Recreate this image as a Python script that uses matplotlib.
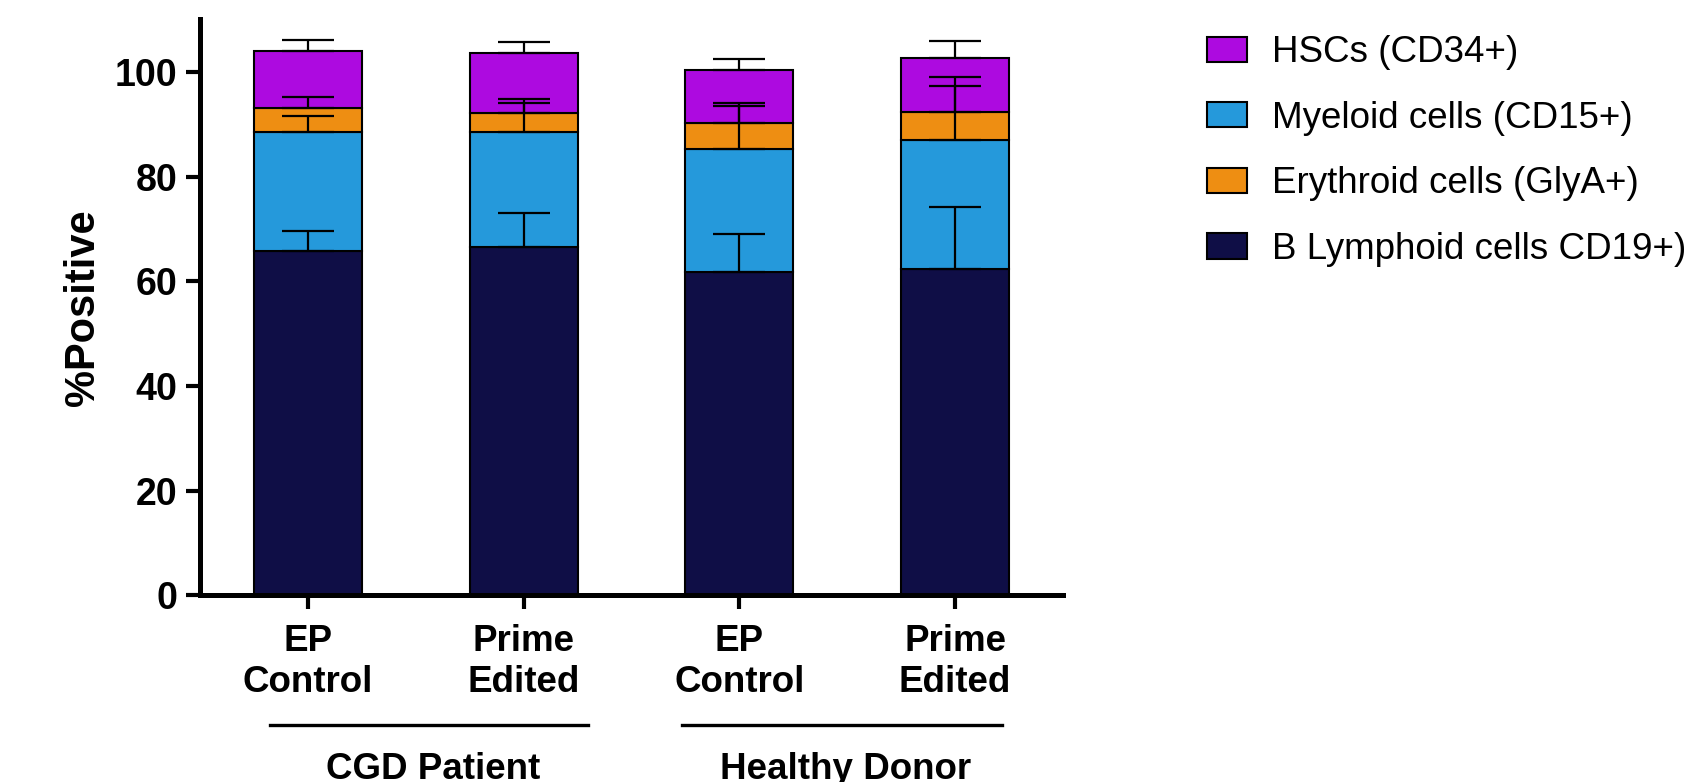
import numpy as np
import matplotlib.pyplot as plt
from matplotlib.patches import Patch

plt.rcParams["font.family"] = ["Liberation Sans", "DejaVu Sans"]

# x categories and the donor groups they belong to
conditions = ["EP\nControl", "Prime\nEdited", "EP\nControl", "Prime\nEdited"]
groups = ["CGD Patient", "Healthy Donor"]
group_spans = [(-0.175, 1.30), (1.735, 3.215)]
group_centers = [0.58, 2.49]

# mean % positive per lineage (stacked bottom to top)
b_lymphoid = [65.8, 66.5, 61.8, 62.4]
myeloid = [22.7, 22.0, 23.5, 24.5]
erythroid = [4.6, 3.6, 4.9, 5.4]
hsc = [10.9, 11.5, 10.1, 10.4]

# upper SD for each segment
b_lymphoid_sd = [3.8, 6.5, 7.2, 11.8]
myeloid_sd = [3.0, 5.5, 8.2, 10.4]
erythroid_sd = [2.0, 2.7, 3.9, 6.7]
hsc_sd = [2.0, 2.1, 2.1, 3.1]

layers = [
    (b_lymphoid, b_lymphoid_sd, "#0F0E46", "B Lymphoid cells CD19+)"),
    (myeloid, myeloid_sd, "#2599DB", "Myeloid cells (CD15+)"),
    (erythroid, erythroid_sd, "#EE8E12", "Erythroid cells (GlyA+)"),
    (hsc, hsc_sd, "#AD0AE0", "HSCs (CD34+)"),
]
legend_order = [3, 1, 2, 0]


def main():
    fig = plt.figure(figsize=(16.9, 7.82), dpi=100)
    ax = fig.add_axes([0.1183, 0.2385, 0.5107, 0.7367])

    x = np.arange(len(conditions))
    bottom = np.zeros(len(conditions))
    handles = []
    for vals, sd, color, label in layers:
        vals = np.array(vals)
        ax.bar(x, vals, 0.5, bottom=bottom, color=color, edgecolor="black",
               linewidth=1.5, zorder=2)
        top = bottom + vals
        ax.errorbar(x, top, yerr=[np.zeros(len(x)), sd], fmt="none",
                    ecolor="black", elinewidth=1.6, capsize=19, capthick=1.6,
                    zorder=3)
        bottom = top
        handles.append(Patch(facecolor=color, edgecolor="black", linewidth=1.5,
                             label=label))

    ax.set_xlim(-0.5, 3.5)
    ax.set_ylim(0, 110)
    ax.set_yticks([0, 20, 40, 60, 80, 100])
    ax.set_xticks(x)
    ax.set_xticklabels(conditions, fontsize=26.5, fontweight="bold",
                       linespacing=1.24)
    for lbl in ax.get_yticklabels():
        lbl.set_fontsize(27)
        lbl.set_fontweight("bold")

    for side in ["top", "right"]:
        ax.spines[side].set_visible(False)
    for side in ["left", "bottom"]:
        ax.spines[side].set_linewidth(3.6)
    ax.tick_params(axis="both", length=10, width=3, pad=6)
    ax.tick_params(axis="x", pad=10.5)

    ax.set_ylabel("%Positive", fontsize=30, fontweight="bold", labelpad=8.5)

    # group brackets under the category labels
    trans = ax.get_xaxis_transform()
    for (x0, x1), xc, name in zip(group_spans, group_centers, groups):
        ax.plot([x0, x1], [-0.2248, -0.2248], color="black", linewidth=2.4,
                transform=trans, clip_on=False)
        ax.text(xc, -0.3185, name, transform=trans, ha="center",
                va="baseline", fontsize=26.5, fontweight="bold")

    fig.legend(handles=[handles[i] for i in legend_order], loc="upper left",
               bbox_to_anchor=(0.714, 0.955), frameon=False, fontsize=26.5,
               handlelength=1.09, handleheight=0.68, handletextpad=0.68,
               labelspacing=0.83, borderpad=0, borderaxespad=0)

    fig.savefig("out.png", dpi=100)


if __name__ == "__main__":
    main()
